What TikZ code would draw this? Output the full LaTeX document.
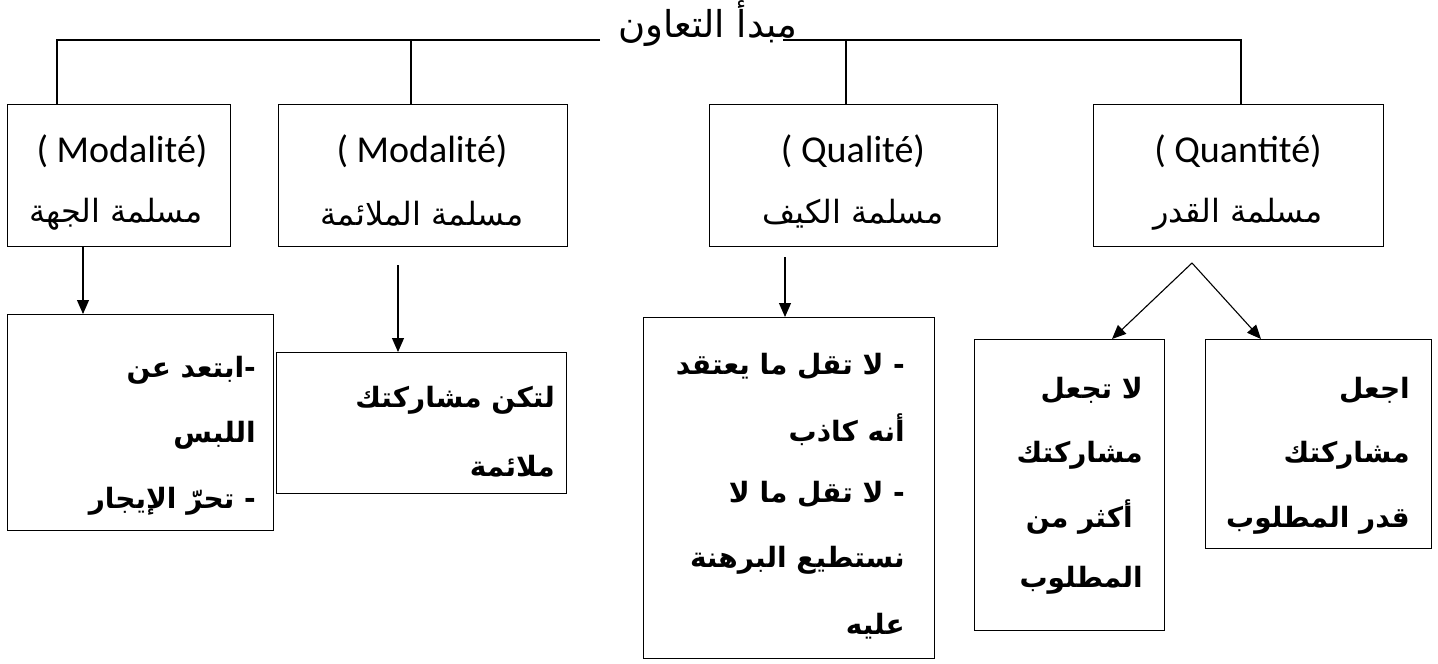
\documentclass[tikz,border=0pt]{standalone}
\usepackage{fontspec}
\usetikzlibrary{arrows.meta}
\TeXXeTstate=1
\newfontfamily\arabicfont[Script=Arabic]{DejaVu Sans}
\newfontfamily\latfont{Carlito}
\tikzset{
  box/.style={draw, line width=1.1pt, inner sep=0pt, anchor=north west},
  conn/.style={line width=1.1pt},
  arr/.style={line width=1.1pt, -{Triangle[length=14pt,width=12pt]}},
  lat/.style={font=\latfont\fontsize{38}{42}\selectfont, inner sep=0pt},
  arh/.style={font=\arabicfont\fontsize{32}{36}\selectfont, inner sep=0pt},
  ttl/.style={font=\arabicfont\fontsize{37}{40}\selectfont, inner sep=0pt},
  arb/.style={font=\arabicfont\bfseries\fontsize{28}{32}\selectfont, inner sep=0pt, anchor=east},
}
\begin{document}
\begin{tikzpicture}[x=1pt,y=-1pt]
\useasboundingbox (0,0) rectangle (1438,664);
% title
\node[ttl] (title) at (708,24) {\beginR مبدأ التعاون\endR};
% top boxes
\node[box, minimum width=223pt, minimum height=142pt] (boxA) at (7,104) {};
\node[box, minimum width=289pt, minimum height=142pt] (boxB) at (278,104) {};
\node[box, minimum width=288pt, minimum height=142pt] (boxC) at (709,104) {};
\node[box, minimum width=290pt, minimum height=142pt] (boxD) at (1093,104) {};
\node[lat] (tA1) at (122,151) {( Modalité)};
\node[arh] (tA2) at (116,214) {\beginR مسلمة الجهة\endR};
\node[lat] (tB1) at (422,151) {( Modalité)};
\node[arh] (tB2) at (422,214) {\beginR مسلمة الملائمة\endR};
\node[lat] (tC1) at (853,151) {( Qualité)};
\node[arh] (tC2) at (853,214) {\beginR مسلمة الكيف\endR};
\node[lat] (tD1) at (1238,151) {( Quantité)};
\node[arh] (tD2) at (1238,214) {\beginR مسلمة القدر\endR};
% top connector
\coordinate (tA) at (57,40);
\coordinate (tB) at (411,40);
\coordinate (gapL) at (600,40);
\coordinate (gapR) at (783,40);
\coordinate (tC) at (846,40);
\coordinate (tD) at (1241,40);
\draw[conn] (gapL) -- (tA) -- (tA |- boxA.north);
\draw[conn] (tB) -- (tB |- boxB.north);
\draw[conn] (gapR) -- (tD) -- (tD |- boxD.north);
\draw[conn] (tC) -- (tC |- boxC.north);
% bottom boxes
\node[box, minimum width=266pt, minimum height=216pt] (boxA2) at (7,314) {};
\node[box, minimum width=290pt, minimum height=141pt] (boxB2) at (276,352) {};
\node[box, minimum width=291pt, minimum height=341pt] (boxC2) at (643,317) {};
\node[box, minimum width=190pt, minimum height=291pt] (boxE) at (974,339) {};
\node[box, minimum width=226pt, minimum height=209pt] (boxF) at (1205,339) {};
% bottom texts
\node[arb] (a1) at (256,370) {\beginR -ابتعد عن\endR};
\node[arb] (a2) at (256,435) {\beginR اللبس\endR};
\node[arb] (a3) at (256,501) {\beginR - تحرّ الإيجار\endR};
\node[arb] (g1) at (555,400) {\beginR لتكن مشاركتك\endR};
\node[arb] (g2) at (555,466) {\beginR ملائمة\endR};
\node[arb] (h1) at (905,366) {\beginR - لا تقل ما يعتقد\endR};
\node[arb] (h2) at (905,430) {\beginR أنه كاذب\endR};
\node[arb] (h3) at (905,494) {\beginR - لا تقل ما لا\endR};
\node[arb] (h4) at (905,560) {\beginR نستطيع البرهنة\endR};
\node[arb] (h5) at (905,626) {\beginR عليه\endR};
\node[arb] (e1) at (1143,390) {\beginR لا تجعل\endR};
\node[arb] (e2) at (1143,455) {\beginR مشاركتك\endR};
\node[arb] (e3) at (1133,517) {\beginR أكثر من\endR};
\node[arb] (e4) at (1143,580) {\beginR المطلوب\endR};
\node[arb] (f1) at (1410,390) {\beginR اجعل\endR};
\node[arb] (f2) at (1410,455) {\beginR مشاركتك\endR};
\node[arb] (f3) at (1410,520) {\beginR قدر المطلوب\endR};
% arrows
\coordinate (sA) at (83,246);
\coordinate (sB) at (398,265);
\coordinate (sC) at (785,257);
\coordinate (sD) at (1192,263);
\coordinate (eE) at (1112,339);
\coordinate (eF) at (1261,339);
\draw[arr] (sA) -- (sA |- boxA2.north);
\draw[arr] (sB) -- (sB |- boxB2.north);
\draw[arr] (sC) -- (sC |- boxC2.north);
\draw[arr] (sD) -- (eE);
\draw[arr] (sD) -- (eF);
\end{tikzpicture}
\end{document}
